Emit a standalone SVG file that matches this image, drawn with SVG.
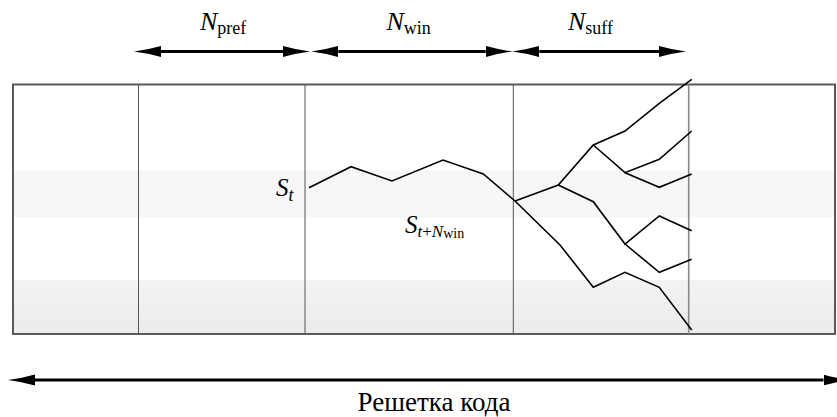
<svg xmlns="http://www.w3.org/2000/svg" width="837" height="417" viewBox="0 0 837 417">
<style>
text{font-family:"Liberation Serif","Times New Roman",serif;fill:#000}
.it{font-style:italic}
.div{stroke:#555;stroke-width:1;fill:none}
.path{stroke:#000;stroke-width:1.6;fill:none;stroke-linejoin:miter}
.arr{stroke:#000;stroke-width:3;fill:none}
</style>
<defs>
<linearGradient id="lowband" x1="0" y1="0" x2="0" y2="1">
<stop offset="0" stop-color="#f3f3f3"/>
<stop offset="1" stop-color="#ebebeb"/>
</linearGradient>
<marker id="head" viewBox="0 -6 27 12" refX="0" refY="0" markerWidth="27" markerHeight="12" markerUnits="userSpaceOnUse" orient="auto-start-reverse">
<path d="M0,-5.5 Q13,-1.8 27,0 Q13,1.8 0,5.5 Z" fill="#000"/>
</marker>
</defs>

<g id="trellis">
<rect x="13" y="84.5" width="822" height="249.5" fill="#fff"/>
<rect x="13" y="170" width="822" height="47.7" fill="#f7f7f7"/>
<rect x="13" y="280" width="822" height="54" fill="url(#lowband)"/>
<rect x="13" y="84.5" width="822" height="249.5" fill="none" stroke="#5a5a5a" stroke-width="2"/>
<line class="div" x1="138.5" y1="84.5" x2="138.5" y2="334"/>
<line class="div" x1="305" y1="84.5" x2="305" y2="334"/>
<line class="div" x1="513.3" y1="84.5" x2="513.3" y2="334"/>
<line x1="688.7" y1="84.5" x2="688.7" y2="334" stroke="#888" stroke-width="1.6"/>
</g>

<g id="paths">
<polyline class="path" points="309,187.7 351,166.7 392,181 443,160 483.3,174 515,201"/>
<polyline class="path" points="515,201 558.3,185 593.3,145 625,131 659.3,103.3 691.7,79.3"/>
<polyline class="path" points="593.3,145 625,172.7 659.3,159.3 691.7,131"/>
<polyline class="path" points="625,172.7 659.3,187.3 691.7,174"/>
<polyline class="path" points="558.3,185 593.3,201.7 625,244 659.3,216 691.7,230.7"/>
<polyline class="path" points="625,244 659.3,272.3 691.7,259.3"/>
<polyline class="path" points="515,201 560,245 593.3,287.3 625,272.3 659.3,287.3 691.7,330"/>
</g>

<g id="labels">
<text x="276" y="196"><tspan class="it" font-size="25">S</tspan><tspan class="it" font-size="18" dy="5">t</tspan></text>
<text x="405" y="233"><tspan class="it" font-size="25">S</tspan><tspan class="it" font-size="17" dy="4">t</tspan><tspan font-size="17">+</tspan><tspan class="it" font-size="17">N</tspan><tspan font-size="14" dy="1">win</tspan></text>
</g>

<g id="connectors">
<line class="arr" x1="161" y1="51.5" x2="283" y2="51.5" marker-start="url(#head)" marker-end="url(#head)"/>
<line class="arr" x1="338.3" y1="51.5" x2="485.7" y2="51.5" marker-start="url(#head)" marker-end="url(#head)"/>
<line class="arr" x1="539.3" y1="51.5" x2="659" y2="51.5" marker-start="url(#head)" marker-end="url(#head)"/>
<line class="arr" x1="35" y1="380" x2="823.5" y2="380" marker-start="url(#head)" marker-end="url(#head)"/>
</g>

<g id="dims">
<text x="200" y="30"><tspan class="it" font-size="26">N</tspan><tspan font-size="18" dy="3.5">pref</tspan></text>
<text x="386.5" y="30"><tspan class="it" font-size="26">N</tspan><tspan font-size="18" dy="3.5">win</tspan></text>
<text x="568" y="30"><tspan class="it" font-size="26">N</tspan><tspan font-size="18" dy="3.5">suff</tspan></text>
<text x="434" y="411" font-size="27" text-anchor="middle">Решетка кода</text>
</g>
</svg>
